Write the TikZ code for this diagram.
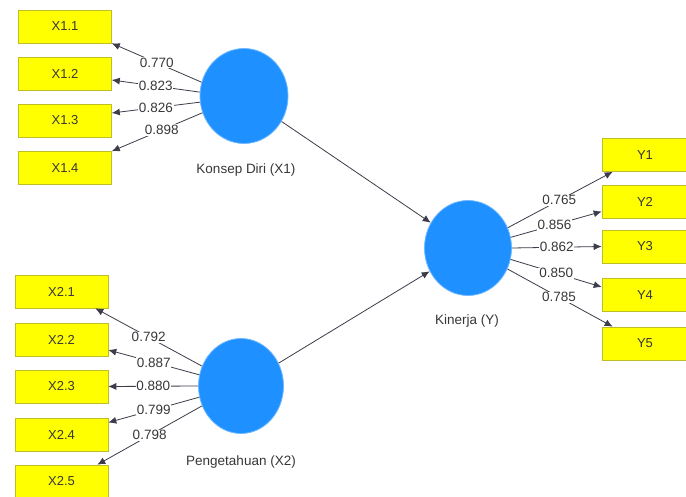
\documentclass[tikz,border=0pt]{standalone}
\usepackage{fontspec}
\setmainfont{Liberation Sans}
\usetikzlibrary{arrows.meta,shapes.geometric}
\definecolor{boxyellow}{RGB}{255,255,0}
\definecolor{boxedge}{RGB}{190,190,40}
\definecolor{lvblue}{RGB}{30,144,255}
\definecolor{lvedge}{RGB}{110,185,255}
\definecolor{linecol}{RGB}{60,60,75}
\definecolor{txtcol}{RGB}{55,55,55}
\begin{document}
\begin{tikzpicture}[x=1pt,y=-1pt,
  indbox/.style={draw=boxedge,line width=0.6pt,fill=boxyellow,minimum width=93pt,minimum height=33pt,inner sep=0pt,text=txtcol,font=\fontsize{13}{14}\selectfont},
  ybox/.style={indbox,minimum width=86pt},
  latent/.style={ellipse,draw=lvedge,line width=0.8pt,fill=lvblue,minimum width=87pt,minimum height=95pt,inner sep=0pt},
  lvlabel/.style={text=txtcol,font=\fontsize{13.5}{15}\selectfont},
  conn/.style={draw=linecol,line width=0.8pt,-{Latex[length=8pt,width=7pt]}},
  load/.style={fill=white,inner sep=0.8pt,text=txtcol,font=\fontsize{13.5}{14}\selectfont}]
\useasboundingbox[fill=white] (0,0) rectangle (686,497);
% indicator boxes X1
\node[indbox] (x11) at (65,26.5) {X1.1};
\node[indbox] (x12) at (65,74) {X1.2};
\node[indbox] (x13) at (65,120.5) {X1.3};
\node[indbox] (x14) at (65,168) {X1.4};
% indicator boxes X2
\node[indbox] (x21) at (61.5,291.5) {X2.1};
\node[indbox] (x22) at (61.5,340) {X2.2};
\node[indbox] (x23) at (61.5,386.5) {X2.3};
\node[indbox] (x24) at (61.5,434.5) {X2.4};
\node[indbox] (x25) at (61.5,481.5) {X2.5};
% indicator boxes Y
\node[ybox] (y1) at (645,155) {Y1};
\node[ybox] (y2) at (645,201.5) {Y2};
\node[ybox] (y3) at (645,246.5) {Y3};
\node[ybox] (y4) at (645,295) {Y4};
\node[ybox] (y5) at (645,343.5) {Y5};
% latent variables
\node[latent,minimum width=88pt] (k1) at (244,96) {};
\node[latent,minimum width=85pt] (k2) at (241,386) {};
\node[latent] (k3) at (468,248) {};
\node[lvlabel] (k1l) at (246,170) {Konsep Diri (X1)};
\node[lvlabel] (k2l) at (241,462) {Pengetahuan (X2)};
\node[lvlabel] (k3l) at (467,321) {Kinerja (Y)};
% structural paths
\draw[conn] (k1) -- (k3);
\draw[conn] (k2) -- (k3);
% loadings X1
\draw[conn] (k1.162) -- node[load,pos=0.5] {0.770} (x11.south east);
\draw[conn] (k1.175) -- node[load,pos=0.5] {0.823} ([yshift=-6pt]x12.east);
\draw[conn] (k1.188) -- node[load,pos=0.5] {0.826} ([yshift=7.5pt]x13.east);
\draw[conn] (k1.202) -- node[load,pos=0.45] {0.898} (x14.north east);
% loadings X2
\draw[conn] (k2.153) -- node[load,pos=0.5] {0.792} ([xshift=-13pt]x21.south east);
\draw[conn] (k2.165) -- node[load,pos=0.5] {0.887} ([yshift=-10pt]x22.east);
\draw[conn] (k2.180) -- node[load,pos=0.5] {0.880} (x23.east);
\draw[conn] (k2.195) -- node[load,pos=0.5] {0.799} ([yshift=12pt]x24.east);
\draw[conn] (k2.207) -- node[load,pos=0.5] {0.798} ([xshift=-11pt]x25.north east);
% loadings Y
\draw[conn] (k3.27) -- node[load,pos=0.49] {0.765} ([xshift=11pt]y1.south west);
\draw[conn] (k3.14) -- node[load,pos=0.48] {0.856} ([yshift=-10pt]y2.west);
\draw[conn] (k3.0) -- node[load,pos=0.5] {0.862} (y3.west);
\draw[conn] (k3.-15) -- node[load,pos=0.5] {0.850} ([yshift=8pt]y4.west);
\draw[conn] (k3.-28) -- node[load,pos=0.49] {0.785} ([xshift=11pt]y5.north west);
\end{tikzpicture}
\end{document}
